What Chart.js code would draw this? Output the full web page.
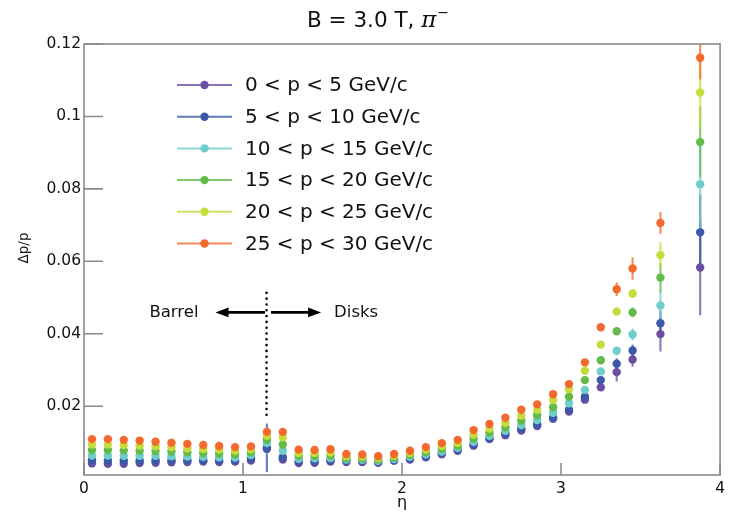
<!DOCTYPE html>
<html>
<head>
<meta charset="utf-8">
<script src="https://cdn.jsdelivr.net/npm/chart.js@4.4.1/dist/chart.umd.min.js"></script>
<style>
  html, body { margin: 0; padding: 0; background: #fff; }
</style>
</head>
<body>
<canvas id="resChart" width="730" height="513"></canvas>
<script>
// eta bin centres
const etaBins = [0.05, 0.15, 0.25, 0.35, 0.45, 0.55, 0.65, 0.75, 0.85, 0.95,
  1.05, 1.15, 1.25, 1.35, 1.45, 1.55, 1.65, 1.75, 1.85, 1.95,
  2.05, 2.15, 2.25, 2.35, 2.45, 2.55, 2.65, 2.75, 2.85, 2.95,
  3.05, 3.15, 3.25, 3.35, 3.45, 3.625, 3.875];

const momentumLabels = ['0 < p < 5 GeV/c', '5 < p < 10 GeV/c', '10 < p < 15 GeV/c',
  '15 < p < 20 GeV/c', '20 < p < 25 GeV/c', '25 < p < 30 GeV/c'];

// dp/p
const res0to5 = [0.0042, 0.0041, 0.0041, 0.0043, 0.0044, 0.0045, 0.0046, 0.0047, 0.0046, 0.0047,
  0.0050, 0.0082, 0.0053, 0.0043, 0.0044, 0.0047, 0.0046, 0.0046, 0.0044, 0.0049,
  0.0053, 0.0059, 0.0067, 0.0077, 0.0091, 0.0109, 0.0120, 0.0133, 0.0145, 0.0165,
  0.0185, 0.0218, 0.0252, 0.0294, 0.0329, 0.0399, 0.0583];
const res5to10 = [0.0051, 0.0050, 0.0050, 0.0050, 0.0051, 0.0051, 0.0051, 0.0051, 0.0050, 0.0050,
  0.0056, 0.0085, 0.0059, 0.0047, 0.0048, 0.0050, 0.0049, 0.0048, 0.0046, 0.0051,
  0.0055, 0.0062, 0.0070, 0.0080, 0.0095, 0.0112, 0.0125, 0.0138, 0.0150, 0.0169,
  0.0190, 0.0226, 0.0272, 0.0317, 0.0354, 0.0429, 0.0680];
const res10to15 = [0.0064, 0.0064, 0.0063, 0.0063, 0.0063, 0.0062, 0.0061, 0.0060, 0.0059, 0.0058,
  0.0065, 0.0098, 0.0077, 0.0055, 0.0056, 0.0057, 0.0053, 0.0052, 0.0049, 0.0054,
  0.0060, 0.0067, 0.0075, 0.0085, 0.0102, 0.0118, 0.0132, 0.0148, 0.0162, 0.0182,
  0.0208, 0.0245, 0.0296, 0.0353, 0.0398, 0.0478, 0.0813];
const res15to20 = [0.0079, 0.0079, 0.0078, 0.0077, 0.0076, 0.0075, 0.0073, 0.0071, 0.0069, 0.0067,
  0.0073, 0.0107, 0.0094, 0.0063, 0.0063, 0.0064, 0.0057, 0.0056, 0.0053, 0.0058,
  0.0065, 0.0073, 0.0082, 0.0091, 0.0111, 0.0127, 0.0142, 0.0160, 0.0175, 0.0197,
  0.0226, 0.0272, 0.0327, 0.0407, 0.0459, 0.0555, 0.0929];
const res20to25 = [0.0094, 0.0094, 0.0093, 0.0091, 0.0089, 0.0087, 0.0084, 0.0082, 0.0080, 0.0077,
  0.0081, 0.0118, 0.0114, 0.0071, 0.0071, 0.0072, 0.0062, 0.0061, 0.0057, 0.0063,
  0.0071, 0.0080, 0.0090, 0.0098, 0.0122, 0.0138, 0.0154, 0.0174, 0.0190, 0.0217,
  0.0247, 0.0298, 0.0370, 0.0461, 0.0511, 0.0617, 0.1066];
const res25to30 = [0.0109, 0.0109, 0.0107, 0.0105, 0.0102, 0.0099, 0.0096, 0.0093, 0.0090, 0.0087,
  0.0089, 0.0129, 0.0129, 0.0080, 0.0079, 0.0081, 0.0068, 0.0067, 0.0062, 0.0068,
  0.0077, 0.0087, 0.0098, 0.0107, 0.0134, 0.0151, 0.0168, 0.0190, 0.0205, 0.0233,
  0.0261, 0.0321, 0.0418, 0.0523, 0.0580, 0.0706, 0.1162];

// symmetric errors (0 where hidden by the marker)
const err0to5 = [0, 0, 0, 0, 0, 0, 0, 0, 0, 0, 0, 0, 0, 0, 0, 0, 0, 0, 0, 0,
  0, 0, 0, 0, 0, 0, 0, 0, 0, 0, 0, 0, 0, 0.0026, 0.0020, 0.0048, 0.0132];
const err5to10 = [0, 0, 0, 0, 0, 0, 0, 0, 0, 0, 0, 0.0067, 0, 0, 0, 0, 0, 0, 0, 0,
  0, 0, 0, 0, 0, 0, 0, 0, 0, 0, 0, 0, 0, 0.0015, 0.0016, 0.0035, 0.0104];
const err10to15 = [0, 0, 0, 0, 0, 0, 0, 0, 0, 0, 0, 0.0030, 0, 0, 0, 0, 0, 0, 0, 0,
  0, 0, 0, 0, 0, 0, 0, 0, 0, 0, 0, 0, 0, 0.0012, 0.0016, 0.0040, 0.0127];
const err15to20 = [0, 0, 0, 0, 0, 0, 0, 0, 0, 0, 0, 0, 0, 0, 0, 0, 0, 0, 0, 0,
  0, 0, 0, 0, 0, 0, 0, 0, 0, 0, 0, 0, 0, 0.0010, 0.0014, 0.0040, 0.0097];
const err20to25 = [0, 0, 0, 0, 0, 0, 0, 0, 0, 0, 0, 0, 0, 0, 0, 0, 0, 0, 0, 0,
  0, 0, 0, 0, 0, 0, 0, 0, 0, 0, 0, 0, 0, 0.0010, 0.0012, 0.0036, 0.0095];
const err25to30 = [0, 0, 0, 0, 0, 0, 0, 0, 0, 0, 0, 0, 0, 0, 0, 0, 0, 0, 0, 0,
  0, 0, 0, 0, 0, 0, 0, 0, 0, 0, 0, 0, 0.0008, 0.0019, 0.0031, 0.0030, 0.0060];

const xTickValues = [0, 1, 2, 3, 4];
const yTickValues = [0.02, 0.04, 0.06, 0.08, 0.1, 0.12];

// barrel / disk marker, in data units
const boundaryEta = 1.148;
const boundaryRange = [0.0162, 0.0513];
const arrowLevel = 0.0459;
const barrelArrow = [1.138, 0.827];
const diskArrow = [1.176, 1.491];

const seriesValues = [res0to5, res5to10, res10to15, res15to20, res20to25, res25to30];
const seriesErrors = [err0to5, err5to10, err10to15, err15to20, err20to25, err25to30];
const seriesColors = ['#6b4fa3', '#3b59a8', '#6fcdcc', '#63ba4a', '#c6db3c', '#f4692e'];

const FONT = '"DejaVu Sans", sans-serif';
Chart.defaults.font.family = FONT;
Chart.defaults.color = '#111';

function fade(hex, a) {
  const n = parseInt(hex.slice(1), 16);
  return `rgba(${n >> 16}, ${(n >> 8) & 255}, ${n & 255}, ${a})`;
}

const datasets = seriesValues.map((vals, i) => ({
  label: momentumLabels[i],
  data: etaBins.map((eta, k) => ({ x: eta, y: vals[k] })),
  errors: seriesErrors[i],
  backgroundColor: seriesColors[i],
  borderColor: seriesColors[i],
  borderWidth: 0,
  pointRadius: 4.2,
  showLine: false,
  order: seriesValues.length - i   // last series drawn on top
}));

function arrow(ctx, x0, x1, yy) {
  const dir = Math.sign(x1 - x0);
  ctx.beginPath();
  ctx.moveTo(x0, yy);
  ctx.lineTo(x1 - dir * 10, yy);
  ctx.stroke();
  ctx.beginPath();
  ctx.moveTo(x1, yy);
  ctx.lineTo(x1 - dir * 13, yy - 4.8);
  ctx.lineTo(x1 - dir * 13, yy + 4.8);
  ctx.closePath();
  ctx.fill();
}

const rootStyle = {
  id: 'rootStyle',
  beforeDatasetsDraw(chart) {
    const { ctx, chartArea: a, scales: { x, y } } = chart;
    ctx.save();
    ctx.beginPath();
    ctx.rect(a.left, a.top, a.right - a.left, a.bottom - a.top);
    ctx.clip();
    ctx.lineWidth = 2.2;
    chart.data.datasets.forEach((ds, i) => {
      ctx.strokeStyle = fade(seriesColors[i], 0.75);
      ds.data.forEach((p, k) => {
        const e = ds.errors[k];
        if (!e) return;
        const px = x.getPixelForValue(p.x);
        ctx.beginPath();
        ctx.moveTo(px, y.getPixelForValue(p.y - e));
        ctx.lineTo(px, y.getPixelForValue(p.y + e));
        ctx.stroke();
      });
    });
    ctx.restore();
  },
  afterDraw(chart) {
    const { ctx, chartArea: a, scales: { x, y } } = chart;
    ctx.save();

    // frame and inward ticks
    ctx.strokeStyle = '#8a8a8a';
    ctx.lineWidth = 1.6;
    ctx.strokeRect(a.left, a.top, a.right - a.left, a.bottom - a.top);
    ctx.beginPath();
    xTickValues.forEach(v => {
      const px = x.getPixelForValue(v);
      ctx.moveTo(px, a.bottom);
      ctx.lineTo(px, a.bottom - 12);
    });
    yTickValues.forEach(v => {
      const py = y.getPixelForValue(v);
      ctx.moveTo(a.left, py);
      ctx.lineTo(a.left + 19, py);
    });
    ctx.stroke();

    // barrel / disks boundary
    ctx.strokeStyle = '#000';
    ctx.fillStyle = '#000';
    ctx.lineWidth = 2.6;
    ctx.lineCap = 'round';
    ctx.setLineDash([0.01, 5.8]);
    const bx = x.getPixelForValue(boundaryEta);
    ctx.beginPath();
    ctx.moveTo(bx, y.getPixelForValue(boundaryRange[1]));
    ctx.lineTo(bx, y.getPixelForValue(boundaryRange[0]));
    ctx.stroke();
    ctx.setLineDash([]);
    ctx.lineCap = 'butt';
    ctx.lineWidth = 2.8;
    const ay = y.getPixelForValue(arrowLevel);
    arrow(ctx, x.getPixelForValue(barrelArrow[0]), x.getPixelForValue(barrelArrow[1]), ay);
    arrow(ctx, x.getPixelForValue(diskArrow[0]), x.getPixelForValue(diskArrow[1]), ay);
    ctx.font = '16.5px ' + FONT;
    ctx.textBaseline = 'middle';
    ctx.textAlign = 'right';
    ctx.fillStyle = '#111';
    ctx.fillText('Barrel', x.getPixelForValue(barrelArrow[1]) - 17, ay);
    ctx.textAlign = 'left';
    ctx.fillText('Disks', x.getPixelForValue(diskArrow[1]) + 13, ay);

    // legend
    ctx.font = '20px ' + FONT;
    chart.data.datasets.forEach((ds, i) => {
      const ly = 85 + i * 31.7;
      ctx.strokeStyle = fade(seriesColors[i], 0.8);
      ctx.lineWidth = 2;
      ctx.beginPath();
      ctx.moveTo(177, ly);
      ctx.lineTo(232, ly);
      ctx.stroke();
      ctx.fillStyle = seriesColors[i];
      ctx.beginPath();
      ctx.arc(204.5, ly, 4.2, 0, Math.PI * 2);
      ctx.fill();
      ctx.fillStyle = '#111';
      ctx.fillText(ds.label, 245, ly + 1);
    });

    // title
    const t1 = 'B = 3.0 T, ';
    const fMain = '21.5px ' + FONT;
    const fPi = 'italic 23px "DejaVu Serif", serif';
    const fSup = '14px ' + FONT;
    ctx.textBaseline = 'alphabetic';
    ctx.textAlign = 'left';
    ctx.font = fMain; const w1 = ctx.measureText(t1).width;
    ctx.font = fPi; const w2 = ctx.measureText('π').width;
    ctx.font = fSup; const w3 = ctx.measureText('\u2212').width;
    let tx = 378 - (w1 + w2 + w3 + 1) / 2;
    ctx.font = fMain; ctx.fillText(t1, tx, 27); tx += w1;
    ctx.font = fPi; ctx.fillText('π', tx, 27); tx += w2 + 1;
    ctx.font = fSup; ctx.fillText('\u2212', tx, 17);

    // y axis title
    ctx.translate(24, 248);
    ctx.rotate(-Math.PI / 2);
    ctx.font = '13.5px ' + FONT;
    ctx.textAlign = 'center';
    ctx.textBaseline = 'middle';
    ctx.fillText('Δp/p', 0, 0);
    ctx.restore();
  }
};

new Chart(document.getElementById('resChart'), {
  type: 'scatter',
  data: { datasets },
  options: {
    responsive: false,
    animation: false,
    layout: { padding: { top: 44, right: 5, left: 0, bottom: 0 } },
    plugins: {
      legend: { display: false },
      tooltip: { enabled: false },
      title: { display: false }
    },
    scales: {
      x: {
        type: 'linear', min: 0, max: 4,
        afterBuildTicks: s => { s.ticks = xTickValues.map(v => ({ value: v })); },
        afterFit: s => { s.height = 38; },
        grid: { display: false, drawTicks: false },
        border: { display: false },
        ticks: { font: { size: 15.5 }, color: '#111', padding: 5, maxRotation: 0, autoSkip: false,
          callback: v => String(v) },
        title: { display: true, text: 'η', font: { size: 16 }, color: '#111', padding: { top: 0, bottom: 1 } }
      },
      y: {
        type: 'linear', min: 0.001, max: 0.12,
        afterBuildTicks: s => { s.ticks = yTickValues.map(v => ({ value: v })); },
        afterFit: s => { s.width = 84; },
        grid: { display: false, drawTicks: false },
        border: { display: false },
        ticks: { font: { size: 15.5 }, color: '#111', padding: 3, autoSkip: false,
          callback: v => String(Math.round(v * 100) / 100) }
      }
    }
  },
  plugins: [rootStyle]
});
</script>
</body>
</html>
